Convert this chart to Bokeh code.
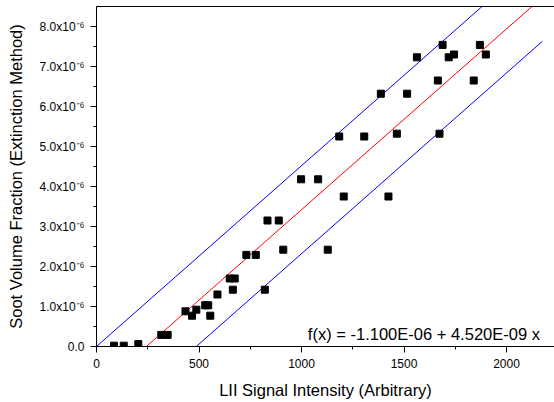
from bokeh.plotting import figure
from bokeh.models import FixedTicker, LinearAxis, Label, Range1d
from bokeh.embed import file_html
from bokeh.resources import INLINE

# data (y in units of 1e-6)
lii_x = [85, 133, 204, 316, 347, 434, 487, 466, 530, 545, 555, 590, 650, 674, 665,
         731, 777, 821, 834, 889, 911, 1128, 1206, 1424, 998, 1081, 1184, 1306,
         1465, 1673, 1387, 1515, 1665, 1840, 1563, 1718, 1744, 1899, 1688, 1870]
fv_e6 = [0.02, 0.02, 0.06, 0.29, 0.29, 0.88, 0.92, 0.77, 1.03, 1.03, 0.77, 1.30,
         1.70, 1.70, 1.42, 2.29, 2.29, 1.42, 3.15, 3.15, 2.42, 2.42, 3.75, 3.75,
         4.18, 4.18, 5.25, 5.25, 5.32, 5.32, 6.32, 6.32, 6.65, 6.65, 7.23, 7.23,
         7.30, 7.30, 7.54, 7.54]
intercept_e6 = -1.1
slope_e6 = 4.52e-3
band_e6 = 1.1
line_x = [0, 2175]
y_ticks = [0, 1, 2, 3, 4, 5, 6, 7, 8]
y_tick_labels = ["0.0"] + [f"{t}.0x10\u207b\u2076" for t in y_ticks[1:]]
x_ticks = [0, 500, 1000, 1500, 2000]

FONT = "Liberation Sans"

p = figure(width=554, height=402, output_backend="svg", toolbar_location=None,
           x_range=Range1d(0, 2234), y_range=Range1d(0, 8.5),
           min_border_left=96, min_border_bottom=56, min_border_top=6, min_border_right=0)
p.outline_line_color = None
p.grid.visible = False
p.background_fill_color = "white"
p.border_fill_color = "white"

fit = [intercept_e6 + slope_e6 * x for x in line_x]
upper = [v + band_e6 for v in fit]
lower = [v - band_e6 for v in fit]
p.line(line_x, upper, line_color="#0000FF", line_width=1)
p.line(line_x, lower, line_color="#0000FF", line_width=1)
p.line(line_x, fit, line_color="#FF0000", line_width=1)
p.scatter(lii_x, fv_e6, marker="square", size=7, fill_color="black", line_color="black")

xa = p.xaxis[0]
xa.ticker = FixedTicker(ticks=x_ticks, minor_ticks=[250 * i for i in range(9)])
xa.axis_label = "LII Signal Intensity (Arbitrary)"
ya = p.yaxis[0]
ya.ticker = FixedTicker(ticks=y_ticks, minor_ticks=[0.5 * i for i in range(17)])
ya.major_label_overrides = {t: l for t, l in zip(y_ticks, y_tick_labels)}
ya.axis_label = "Soot Volume Fraction (Extinction Method)"
for ax in (xa, ya):
    ax.axis_line_color = "black"
    ax.axis_line_width = 1
    ax.major_tick_out = 6
    ax.major_tick_in = 0
    ax.minor_tick_out = 3
    ax.minor_tick_in = 0
    ax.major_tick_line_color = "black"
    ax.minor_tick_line_color = "black"
    ax.major_label_text_font = FONT
    ax.major_label_text_font_size = "12px"
    ax.major_label_text_color = "black"
    ax.axis_label_text_font = FONT
    ax.axis_label_text_font_size = "16.5px"
    ax.axis_label_text_font_style = "normal"
    ax.axis_label_text_color = "black"
xa.major_label_standoff = 6
xa.axis_label_standoff = 10
ya.major_label_standoff = 6
ya.axis_label_standoff = 12

top = LinearAxis(ticker=FixedTicker(ticks=[]), axis_line_color="black",
                 major_tick_out=0, major_tick_in=0, minor_tick_out=0, minor_tick_in=0,
                 major_label_standoff=0, major_label_text_font_size="0px")
p.add_layout(top, "above")

p.add_layout(Label(x=1031, y=0.3175, text="f(x) = -1.100E-06 + 4.520E-09 x",
                   text_font=FONT, text_font_size="16.5px", text_color="black",
                   text_baseline="alphabetic"))

open("out.html", "w").write(file_html(p, INLINE))
